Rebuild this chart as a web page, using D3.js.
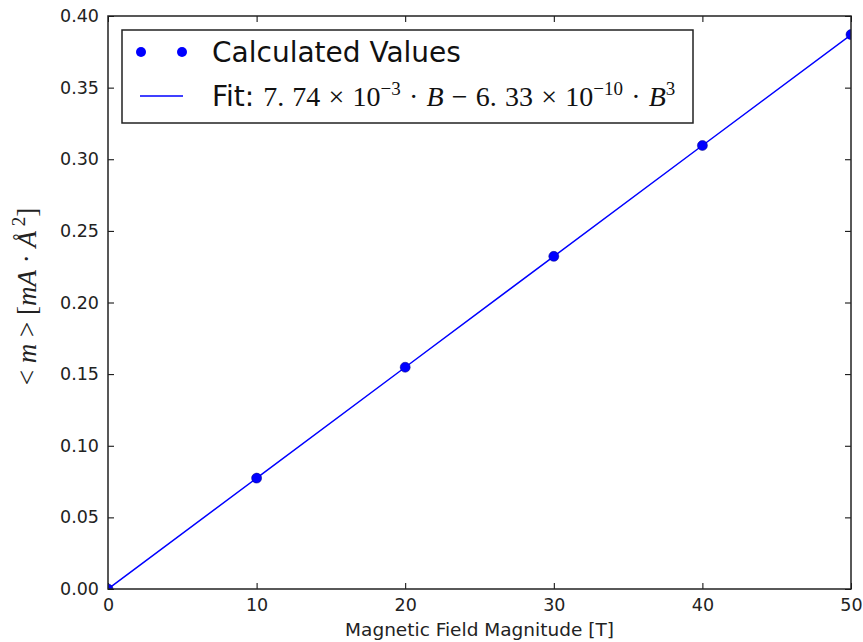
<!DOCTYPE html>
<html>
<head>
<meta charset="utf-8">
<script src="https://cdn.jsdelivr.net/npm/d3@7"></script>
<style>
  body { margin: 0; background: #fff; }
  svg { font-family: "DejaVu Sans", sans-serif; }
</style>
</head>
<body>
<div id="chart"></div>
<script>
// data
const fieldValues = [0, 10, 20, 30, 40, 50];
const momentValues = [0.0, 0.0774, 0.1548, 0.2322, 0.3096, 0.387];
const fitValues = [0.0, 0.0774, 0.1548, 0.2322, 0.3096, 0.3869];
const xTicks = [0, 10, 20, 30, 40, 50];
const yTicks = [0.0, 0.05, 0.1, 0.15, 0.2, 0.25, 0.3, 0.35, 0.4];

var margin = { top: 16, right: 12, bottom: 53, left: 108 },
  width = 863 - margin.left - margin.right,
  height = 642 - margin.top - margin.bottom;

var svg = d3.select("#chart")
  .append("svg")
  .attr("width", 863)
  .attr("height", 642)
  .append("g")
  .attr("transform", "translate(" + margin.left + "," + margin.top + ")");

var x = d3.scaleLinear().domain([0, 50]).range([0, width]);
var y = d3.scaleLinear().domain([0, 0.4]).range([height, 0]);

svg.append("clipPath").attr("id", "clip")
  .append("rect").attr("width", width).attr("height", height);

// axes, ticks pointing inward on all sides
function styleAxis(g) {
  g.select(".domain").remove();
  g.selectAll(".tick line").attr("stroke", "#000").attr("stroke-width", 1);
  g.selectAll(".tick text").attr("fill", "#222").style("font-size", "17.5px")
    .style("font-family", "DejaVu Sans");
}

svg.append("g")
  .attr("transform", "translate(0," + height + ")")
  .call(d3.axisBottom(x).tickValues(xTicks).tickSizeInner(-6).tickPadding(10).tickFormat(d3.format("d")))
  .call(styleAxis);
svg.append("g")
  .call(d3.axisTop(x).tickValues(xTicks).tickSizeInner(-6).tickFormat(""))
  .call(styleAxis);
svg.append("g")
  .call(d3.axisLeft(y).tickValues(yTicks).tickSizeInner(-6).tickPadding(9).tickFormat(d3.format(".2f")))
  .call(styleAxis);
svg.append("g")
  .attr("transform", "translate(" + width + ",0)")
  .call(d3.axisRight(y).tickValues(yTicks).tickSizeInner(-6).tickFormat(""))
  .call(styleAxis);

// fit line
var line = d3.line()
  .x(function (d, i) { return x(fieldValues[i]); })
  .y(function (d) { return y(d); });

var plot = svg.append("g").attr("clip-path", "url(#clip)");
plot.append("path")
  .datum(fitValues)
  .attr("d", line)
  .attr("fill", "none")
  .attr("stroke", "#0000ff")
  .attr("stroke-width", 1.5);

plot.selectAll("dot")
  .data(momentValues)
  .enter()
  .append("circle")
  .attr("cx", function (d, i) { return x(fieldValues[i]); })
  .attr("cy", function (d) { return y(d); })
  .attr("r", 5)
  .attr("fill", "#0000ff")
  .attr("stroke", "#000080")
  .attr("stroke-width", 0.5);

// frame
svg.append("rect")
  .attr("width", width).attr("height", height)
  .attr("fill", "none").attr("stroke", "#222").attr("stroke-width", 1.5);

// axis labels
svg.append("text")
  .attr("x", width / 2).attr("y", height + 47)
  .attr("text-anchor", "middle")
  .style("font-size", "18.5px")
  .attr("fill", "#222")
  .text("Magnetic Field Magnitude [T]");

var serif = "'Liberation Serif', 'DejaVu Serif', serif";
var ylab = svg.append("text")
  .attr("transform", "translate(-72," + (height / 2 - 6) + ") rotate(-90)")
  .attr("text-anchor", "middle")
  .style("font-family", serif)
  .style("font-size", "27px")
  .attr("fill", "#222");
ylab.append("tspan").text("< ");
ylab.append("tspan").style("font-style", "italic").text("m");
ylab.append("tspan").text(" > [");
ylab.append("tspan").style("font-style", "italic").text("mA");
ylab.append("tspan").text(" · ");
ylab.append("tspan").style("font-style", "italic").text("Å");
ylab.append("tspan").attr("dy", -11).style("font-size", "19px").text(" 2");
ylab.append("tspan").attr("dy", 11).text("]");

// legend
var legend = svg.append("g").attr("transform", "translate(14,14)");
legend.append("rect")
  .attr("width", 571).attr("height", 93)
  .attr("fill", "#fff").attr("stroke", "#222").attr("stroke-width", 1.5);

legend.selectAll("legDot")
  .data([19, 60])
  .enter()
  .append("circle")
  .attr("cx", function (d) { return d; })
  .attr("cy", 22)
  .attr("r", 5)
  .attr("fill", "#0000ff");

legend.append("line")
  .attr("x1", 18).attr("x2", 61)
  .attr("y1", 66).attr("y2", 66)
  .attr("stroke", "#0000ff").attr("stroke-width", 1.5);

legend.append("text")
  .attr("x", 90).attr("y", 32)
  .style("font-size", "28px")
  .attr("fill", "#111")
  .text("Calculated Values");

var fit = legend.append("text")
  .attr("x", 90).attr("y", 76)
  .style("font-size", "28px")
  .attr("fill", "#111");
fit.append("tspan").text("Fit: ");
var m = fit.append("tspan").style("font-family", serif).style("font-size", "28px")
  .style("word-spacing", "1.2px");
m.append("tspan").text("7. 74 × 10");
m.append("tspan").attr("dy", -11).style("font-size", "19px").text("−3");
m.append("tspan").attr("dy", 11).text(" · ");
m.append("tspan").style("font-style", "italic").text("B");
m.append("tspan").text(" − 6. 33 × 10");
m.append("tspan").attr("dy", -11).style("font-size", "19px").text("−10");
m.append("tspan").attr("dy", 11).text(" · ");
m.append("tspan").style("font-style", "italic").text("B");
m.append("tspan").attr("dy", -11).style("font-size", "19px").text("3");
</script>
</body>
</html>
